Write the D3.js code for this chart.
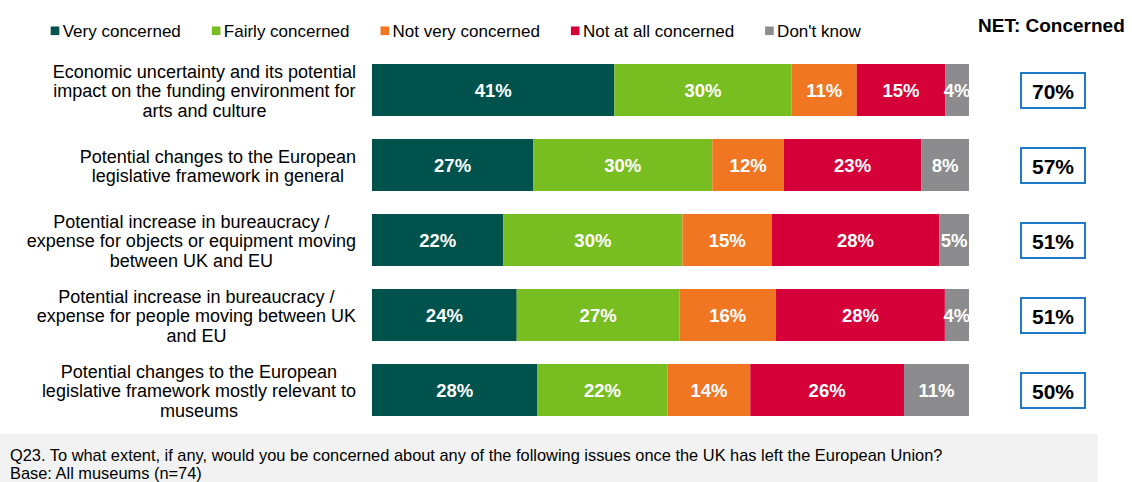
<!DOCTYPE html>
<html>
<head>
<meta charset="utf-8">
<script src="https://cdn.jsdelivr.net/npm/d3@7/dist/d3.min.js"></script>
<style>
  html, body { margin: 0; padding: 0; background: #fff; }
  svg { display: block; font-family: "Liberation Sans", Arial, sans-serif; }
</style>
</head>
<body>
<svg id="chart" width="1132" height="482"></svg>
<script>
// ---- data ----
const categories = [
  "Economic uncertainty and its potential|impact on the funding environment for|arts and culture",
  "Potential changes to the European|legislative framework in general",
  "Potential increase in bureaucracy /|expense for objects or equipment moving|between UK and EU",
  "Potential increase in bureaucracy /|expense for people moving between UK|and EU",
  "Potential changes to the European|legislative framework mostly relevant to|museums"
];
const seriesNames = ["Very concerned", "Fairly concerned", "Not very concerned", "Not at all concerned", "Don't know"];
const veryConcerned     = [41, 27, 22, 24, 28];
const fairlyConcerned   = [30, 30, 30, 27, 22];
const notVeryConcerned  = [11, 12, 15, 16, 14];
const notAtAllConcerned = [15, 23, 28, 28, 26];
const dontKnow          = [4, 8, 5, 4, 11];
const netConcerned      = [70, 57, 51, 51, 50];
const seriesColors = ["#00524c", "#78be20", "#f07622", "#d50037", "#8c8c8e"];
const netTitle = "NET: Concerned";
const footnote1 = "Q23. To what extent, if any, would you be concerned about any of the following issues once the UK has left the European Union?";
const footnote2 = "Base: All museums (n=74)";

const seriesValues = [veryConcerned, fairlyConcerned, notVeryConcerned, notAtAllConcerned, dontKnow];

// table built from arrays
const table = categories.map((c, i) => {
  const row = { cat: c, net: netConcerned[i] };
  seriesNames.forEach((s, j) => row[s] = seriesValues[j][i]);
  row.total = d3.sum(seriesNames, s => row[s]);
  return row;
});

const svg = d3.select("#chart");

const x = d3.scaleLinear().domain([0, 100]).range([372, 969]);
const y = d3.scaleBand().domain(categories).range([52.5, 427.5]).paddingInner(23 / 75).paddingOuter(23 / 150);
const color = d3.scaleOrdinal().domain(seriesNames).range(seriesColors);

// stacked (normalised per row)
const stack = d3.stack().keys(seriesNames).offset(d3.stackOffsetExpand);
const stacked = stack(table);

svg.append("defs").append("clipPath").attr("id", "plotclip")
  .append("rect").attr("x", x(0)).attr("y", 0).attr("width", x(100) - x(0)).attr("height", 482);

const plot = svg.append("g").attr("clip-path", "url(#plotclip)");

const layers = plot.selectAll("g.layer").data(stacked).join("g")
  .attr("class", "layer").attr("fill", d => color(d.key));

layers.selectAll("rect").data(d => d).join("rect")
  .attr("x", d => x(d[0] * 100))
  .attr("y", d => y(d.data.cat))
  .attr("width", d => x(d[1] * 100) - x(d[0] * 100))
  .attr("height", y.bandwidth());

layers.each(function(layer) {
  d3.select(this).selectAll("text").data(layer).join("text")
    .attr("x", d => (x(d[0] * 100) + x(d[1] * 100)) / 2)
    .attr("y", d => y(d.data.cat) + y.bandwidth() / 2)
    .attr("dy", "0.36em")
    .attr("text-anchor", "middle")
    .attr("fill", "#fff")
    .attr("font-weight", "bold")
    .attr("font-size", 18.5)
    .text(d => d.data[layer.key] + "%");
});

// row labels: block right edge at 356, lines centred within block
const lh = 19.5;
table.forEach(row => {
  const lines = row.cat.split("|");
  const g = svg.append("g");
  const texts = lines.map((ln, k) => g.append("text")
    .attr("font-size", 18)
    .attr("fill", "#000")
    .attr("text-anchor", "middle")
    .attr("y", y(row.cat) + y.bandwidth() / 2 + 1 + (k - (lines.length - 1) / 2) * lh)
    .attr("dy", "0.36em")
    .text(ln));
  const maxW = d3.max(texts, t => t.node().getComputedTextLength());
  texts.forEach(t => t.attr("x", 356 - maxW / 2));
});

// NET boxes
const netG = svg.append("g");
table.forEach(row => {
  const cy = y(row.cat) + y.bandwidth() / 2;
  netG.append("rect")
    .attr("x", 1021).attr("y", cy - 17).attr("width", 64).attr("height", 35)
    .attr("fill", "#fff").attr("stroke", "#1f78c8").attr("stroke-width", 2);
  netG.append("text")
    .attr("x", 1053).attr("y", cy + 1).attr("dy", "0.36em")
    .attr("text-anchor", "middle").attr("font-weight", "bold").attr("font-size", 21)
    .attr("fill", "#000").text(row.net + "%");
});

svg.append("text").attr("x", 978).attr("y", 25).attr("dy", "0.36em")
  .attr("font-weight", "bold").attr("font-size", 19).attr("fill", "#000").text(netTitle);

// legend
const leg = svg.append("g");
let lx = 50.7;
seriesNames.forEach(s => {
  leg.append("rect").attr("x", lx).attr("y", 26.5).attr("width", 8.6).attr("height", 8.6).attr("fill", color(s));
  const t = leg.append("text").attr("x", lx + 12).attr("y", 37)
    .attr("font-size", 17).attr("fill", "#000").text(s);
  lx += 12 + t.node().getComputedTextLength() + 31;
});

// footer
svg.append("rect").attr("x", 0).attr("y", 434).attr("width", 1098).attr("height", 48).attr("fill", "#f2f2f2");
svg.append("text").attr("x", 10).attr("y", 455.5).attr("dy", "0.36em").attr("font-size", 16.4).attr("fill", "#000").text(footnote1);
svg.append("text").attr("x", 10).attr("y", 473.5).attr("dy", "0.36em").attr("font-size", 16.4).attr("fill", "#000").text(footnote2);
</script>
</body>
</html>
